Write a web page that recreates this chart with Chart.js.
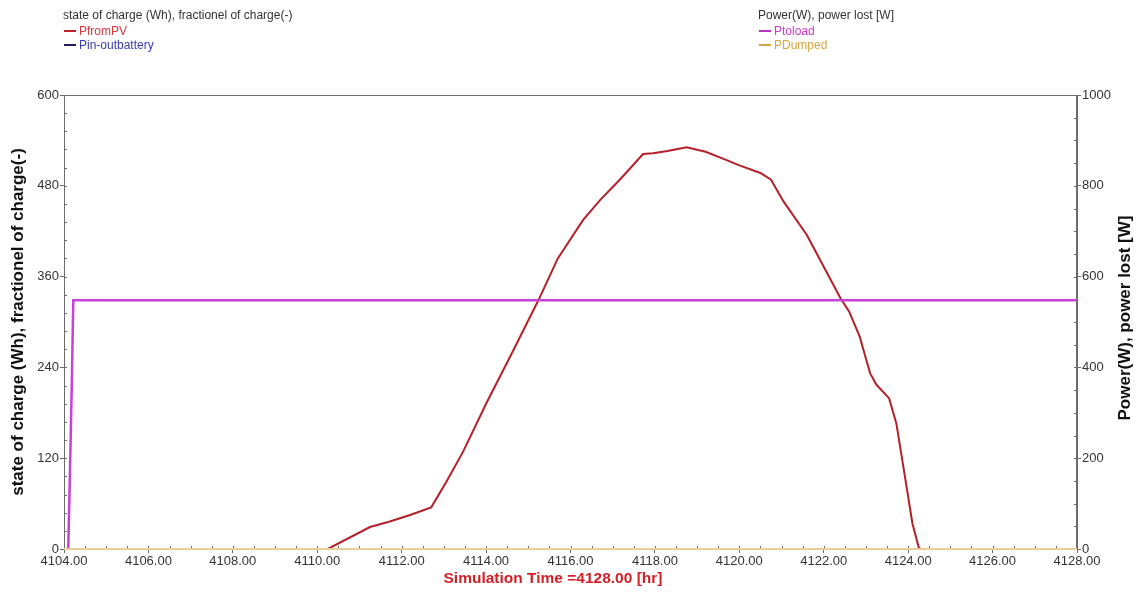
<!DOCTYPE html>
<html>
<head>
<meta charset="utf-8">
<script src="https://cdn.jsdelivr.net/npm/chart.js@4.4.1/dist/chart.umd.min.js"></script>
<style>
  body { margin: 0; background: #fff; font-family: "Liberation Sans", Arial, sans-serif; }
  .wrap { position: relative; width: 1137px; height: 592px; }
  canvas { position: absolute; left: 0; top: 0; }
  .legend { position: absolute; top: 8px; font-size: 12px; line-height: 14px; color: #333; }
  .legend .head { margin-bottom: 2px; }
  .legend .dash { display: inline-block; width: 12px; height: 2px; vertical-align: middle; margin: 0 3px 2px 1px; }
</style>
</head>
<body>
<div class="wrap">
  <canvas id="chart" width="1137" height="592"></canvas>

  <!-- left legend block -->
  <div class="legend" style="left:63px">
    <div class="head">state of charge (Wh), fractionel of charge(-)</div>
    <div style="color:#d8393c"><span class="dash" style="background:#c0202a"></span>PfromPV</div>
    <div style="color:#3b3bab"><span class="dash" style="background:#1c1c66"></span>Pin-outbattery</div>
  </div>

  <!-- right legend block -->
  <div class="legend" style="left:758px">
    <div class="head">Power(W), power lost [W]</div>
    <div style="color:#cc3ccc"><span class="dash" style="background:#b533c4"></span>Ptoload</div>
    <div style="color:#d9a443"><span class="dash" style="background:#d4a447"></span>PDumped</div>
  </div>
</div>

<script>
// ---------------- Data ----------------
// PfromPV (left axis)
const pvHours = [4104.0, 4110.25, 4111.25, 4111.7, 4112.2, 4112.7, 4113.05, 4113.45, 4114.0,
  4114.65, 4115.25, 4115.7, 4116.3, 4116.7, 4117.2, 4117.72, 4117.95, 4118.3, 4118.75,
  4119.2, 4119.7, 4120.0, 4120.5, 4120.75, 4121.05, 4121.6, 4122.0, 4122.4, 4122.6,
  4122.85, 4123.1, 4123.25, 4123.55, 4123.72, 4123.9, 4124.1, 4124.25, 4124.3, 4128.0];
const pvValues = [0, 0, 29, 36, 45, 55, 88, 128, 192,
  263, 330, 384, 435, 461, 490, 522, 523, 526, 531,
  525, 514, 507, 497, 488, 459, 415, 373, 331, 314,
  281, 232, 217, 199, 166, 104, 34, 2, 0, 0];

// Pin-outbattery (left axis) - stays at zero
const batteryHours = [4104, 4128];
const batteryValues = [0, 0];

// Ptoload (right axis, W)
const loadHours = [4104.1, 4104.13, 4104.16, 4104.19, 4104.22, 4128];
const loadValues = [0, 120, 250, 390, 548, 548];

// PDumped (right axis, W) - stays at zero
const dumpedHours = [4104, 4128];
const dumpedValues = [0, 0];

// Axis ranges / ticks
const xRange = [4104, 4128];
const xStep = 2;
const leftRange = [0, 600];
const leftStep = 120;
const rightRange = [0, 1000];
const rightStep = 200;

const toPoints = (xs, ys) => xs.map((x, i) => ({ x, y: ys[i] }));

const AXIS_COLOR = "#6b6b6b";
const TICK_FONT = { family: "'Liberation Sans', Arial, sans-serif", size: 13 };
const TITLE_FONT = { family: "'Liberation Sans', Arial, sans-serif", size: 17, weight: "bold" };

// ---------------- Frame, minor ticks, extra titles ----------------
const framePlugin = {
  id: "frame",
  beforeDatasetsDraw(chart) {
    const { ctx, chartArea: a, scales } = chart;
    ctx.save();
    ctx.strokeStyle = AXIS_COLOR;
    ctx.lineWidth = 1;
    ctx.strokeRect(a.left + 0.5, a.top + 0.5, a.right - a.left - 1, a.bottom - a.top);

    // minor ticks inside the plot
    ctx.beginPath();
    for (let v = leftRange[0]; v <= leftRange[1]; v += 24) {
      const y = Math.round(scales.y.getPixelForValue(v)) + 0.5;
      ctx.moveTo(a.left, y); ctx.lineTo(a.left + 3, y);
    }
    for (let v = rightRange[0]; v <= rightRange[1]; v += 50) {
      const y = Math.round(scales.y1.getPixelForValue(v)) + 0.5;
      ctx.moveTo(a.right, y); ctx.lineTo(a.right - 3, y);
    }
    for (let v = xRange[0]; v <= xRange[1]; v += 0.5) {
      const x = Math.round(scales.x.getPixelForValue(v)) + 0.5;
      ctx.moveTo(x, a.bottom); ctx.lineTo(x, a.bottom - 3);
    }
    ctx.stroke();
    ctx.restore();
  },
  afterDraw(chart) {
    const { ctx } = chart;
    // right axis title, reading bottom to top
    ctx.save();
    ctx.font = "bold 17px 'Liberation Sans', Arial, sans-serif";
    ctx.textAlign = "center";
    ctx.textBaseline = "middle";
    ctx.fillStyle = "#111";
    ctx.translate(1125, 318);
    ctx.rotate(-Math.PI / 2);
    ctx.fillText("Power(W), power lost [W]", 0, 0);
    ctx.restore();

    // x axis title
    ctx.save();
    ctx.font = "bold 15.5px 'Liberation Sans', Arial, sans-serif";
    ctx.textAlign = "center";
    ctx.textBaseline = "middle";
    ctx.fillStyle = "#d21f26";
    ctx.fillText("Simulation Time =4128.00 [hr]", 553, 579);
    ctx.restore();
  },
};

// ---------------- Chart ----------------
new Chart(document.getElementById("chart"), {
  type: "line",
  data: {
    datasets: [
      {
        label: "Pin-outbattery",
        data: toPoints(batteryHours, batteryValues),
        yAxisID: "y",
        borderColor: "#1c1c66",
        borderWidth: 2,
        order: 4,
      },
      {
        label: "PfromPV",
        data: toPoints(pvHours, pvValues),
        yAxisID: "y",
        borderColor: "#b4202a",
        borderWidth: 2,
        order: 3,
      },
      {
        label: "Ptoload",
        data: toPoints(loadHours, loadValues),
        yAxisID: "y1",
        borderColor: "#c442d6",
        borderWidth: 2.5,
        order: 2,
      },
      {
        label: "PDumped",
        data: toPoints(dumpedHours, dumpedValues),
        yAxisID: "y1",
        borderColor: "#e8cf98",
        borderWidth: 2,
        order: 1,
      },
    ],
  },
  options: {
    responsive: false,
    animation: false,
    devicePixelRatio: 1,
    clip: 4,
    elements: { point: { radius: 0 }, line: { tension: 0 } },
    layout: { padding: { top: 95, left: 0, right: 0, bottom: 0 } },
    plugins: { legend: { display: false }, tooltip: { enabled: false } },
    scales: {
      x: {
        type: "linear",
        min: xRange[0],
        max: xRange[1],
        afterFit: (s) => { s.height = 43; },
        ticks: {
          stepSize: xStep,
          color: "#333",
          font: TICK_FONT,
          padding: 1,
          maxRotation: 0,
          callback: (v) => Number(v).toFixed(2),
        },
        grid: { drawOnChartArea: false, tickLength: 4, color: AXIS_COLOR },
        border: { color: AXIS_COLOR },
      },
      y: {
        position: "left",
        min: leftRange[0],
        max: leftRange[1],
        afterFit: (s) => { s.width = 64; },
        ticks: { stepSize: leftStep, color: "#333", font: TICK_FONT, padding: 1 },
        grid: { drawOnChartArea: false, tickLength: 4, color: AXIS_COLOR },
        border: { color: AXIS_COLOR },
        title: {
          display: true,
          text: "state of charge (Wh), fractionel of charge(-)",
          color: "#111",
          font: TITLE_FONT,
          padding: { top: 8, bottom: 0 },
        },
      },
      y1: {
        position: "right",
        min: rightRange[0],
        max: rightRange[1],
        afterFit: (s) => { s.width = 60; },
        ticks: {
          stepSize: rightStep,
          color: "#333",
          font: TICK_FONT,
          padding: 1,
          callback: (v) => String(v),
        },
        grid: { drawOnChartArea: false, tickLength: 4, color: AXIS_COLOR },
        border: { color: AXIS_COLOR },
      },
    },
  },
  plugins: [framePlugin],
});
</script>
</body>
</html>
